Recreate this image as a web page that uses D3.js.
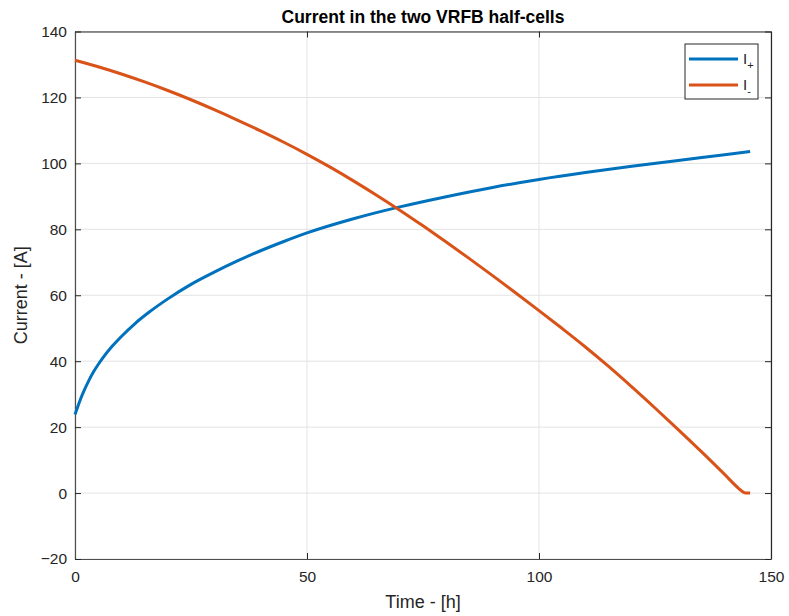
<!DOCTYPE html>
<html>
<head>
<meta charset="utf-8">
<script src="https://cdn.jsdelivr.net/npm/d3@7"></script>
<style>
  body { margin: 0; background: #fff; }
  text { font-family: "Liberation Sans", Arial, Helvetica, sans-serif; }
</style>
</head>
<body>
<svg id="chart" width="789" height="616"></svg>
<script>
// ---- data ----
const title = "Current in the two VRFB half-cells";
const xLabel = "Time - [h]";
const yLabel = "Current - [A]";
const xTicks = [0, 50, 100, 150];
const yTicks = [-20, 0, 20, 40, 60, 80, 100, 120, 140];
const seriesNames = ["I+", "I-"];

const tPlus = [0, 0.5, 1, 2, 3, 4, 5, 6, 8, 10, 13, 16, 20, 25, 30, 35, 40, 45, 50, 60, 70, 80, 90, 100, 110, 120, 130, 140, 145.5];
const iPlus = [23.8, 25.8, 27.8, 31.2, 34.2, 36.8, 39.0, 41.0, 44.5, 47.5, 51.5, 54.9, 58.9, 63.3, 67.0, 70.4, 73.5, 76.3, 78.9, 83.2, 86.8, 89.9, 92.7, 95.1, 97.2, 99.1, 100.9, 102.6, 103.6];

const tMinus = [0, 5, 10, 15, 20, 25, 30, 35, 40, 45, 50, 55, 60, 65, 70, 75, 80, 85, 90, 95, 100, 105, 110, 115, 120, 125, 130, 135, 140, 143, 144, 144.5, 145.5];
const iMinus = [131.3, 129.3, 127.1, 124.7, 122.1, 119.3, 116.3, 113.15, 109.85, 106.4, 102.75, 98.85, 94.7, 90.35, 85.8, 81.05, 76.15, 71.1, 65.95, 60.7, 55.35, 49.9, 44.3, 38.4, 32.2, 25.8, 19.25, 12.55, 5.65, 1.45, 0.3, 0.0, 0.0];

// ---- layout ----
const svg = d3.select("#chart");
const L = 75, R = 771, T = 31.5, B = 559;
const x = d3.scaleLinear().domain([0, 150]).range([L, R]);
const y = d3.scaleLinear().domain([-20, 140]).range([B, T]);
const axisColor = "#262626";
const gridColor = "#e3e3e3";
const colors = ["#0072BD", "#D95319"];

// grid
svg.append("g").selectAll("line").data(xTicks).join("line")
  .attr("x1", d => x(d)).attr("x2", d => x(d)).attr("y1", T).attr("y2", B)
  .attr("stroke", gridColor).attr("stroke-width", 1);
svg.append("g").selectAll("line").data(yTicks).join("line")
  .attr("x1", L).attr("x2", R).attr("y1", d => y(d)).attr("y2", d => y(d))
  .attr("stroke", gridColor).attr("stroke-width", 1);

// axes (ticks inward)
const tickLen = 6;
const axB = svg.append("g").attr("transform", `translate(0,${B})`)
  .call(d3.axisBottom(x).tickValues(xTicks).tickSizeInner(-tickLen).tickSizeOuter(0).tickPadding(12).tickFormat(d3.format("d")));
const axT = svg.append("g").attr("transform", `translate(0,${T})`)
  .call(d3.axisTop(x).tickValues(xTicks).tickSizeInner(-tickLen).tickSizeOuter(0).tickFormat(""));
const axL = svg.append("g").attr("transform", `translate(${L},0)`)
  .call(d3.axisLeft(y).tickValues(yTicks).tickSizeInner(-tickLen).tickSizeOuter(0).tickPadding(8).tickFormat(d3.format("d")));
const axR = svg.append("g").attr("transform", `translate(${R},0)`)
  .call(d3.axisRight(y).tickValues(yTicks).tickSizeInner(-tickLen).tickSizeOuter(0).tickFormat(""));
[axB, axT, axL, axR].forEach(a => {
  a.select(".domain").attr("stroke", "#4d4d4d").attr("stroke-width", 1.2);
  a.selectAll(".tick line").attr("stroke", axisColor).attr("stroke-width", 1);
  a.selectAll(".tick text").attr("fill", axisColor).style("font-size", "15.5px")
    .style("font-family", '"Liberation Sans", Arial, sans-serif');
});
axT.select(".domain").attr("stroke", "#262626");
axR.select(".domain").attr("stroke", "#262626");

// lines
const line = d3.line().x(d => x(d[0])).y(d => y(d[1])).curve(d3.curveMonotoneX);
const series = [d3.zip(tPlus, iPlus), d3.zip(tMinus, iMinus)];
svg.append("g").selectAll("path").data(series).join("path")
  .attr("d", line).attr("fill", "none")
  .attr("stroke", (d, i) => colors[i]).attr("stroke-width", 3)
  .attr("stroke-linejoin", "round");

// title and labels
svg.append("text").attr("x", (L + R) / 2).attr("y", 23).attr("text-anchor", "middle")
  .style("font-size", "17.5px").style("font-weight", "bold").attr("fill", "#000").text(title);
svg.append("text").attr("x", (L + R) / 2).attr("y", 608).attr("text-anchor", "middle")
  .style("font-size", "18px").attr("fill", axisColor).text(xLabel);
svg.append("text").attr("transform", `translate(27,${(T + B) / 2}) rotate(-90)`).attr("text-anchor", "middle")
  .style("font-size", "18px").attr("fill", axisColor).text(yLabel);

// legend
const lg = svg.append("g");
lg.append("rect").attr("x", 685).attr("y", 44).attr("width", 73).attr("height", 55)
  .attr("fill", "#fff").attr("stroke", "#262626").attr("stroke-width", 1);
seriesNames.forEach((name, i) => {
  const ly = 59 + i * 26;
  lg.append("line").attr("x1", 689).attr("x2", 738).attr("y1", ly).attr("y2", ly)
    .attr("stroke", colors[i]).attr("stroke-width", 3);
  const t = lg.append("text").attr("x", 743).attr("y", ly + 5).attr("fill", axisColor).style("font-size", "15px");
  t.append("tspan").text(name.slice(0, 1));
  t.append("tspan").attr("dy", 5).style("font-size", "11px").text(name.slice(1));
});
</script>
</body>
</html>
